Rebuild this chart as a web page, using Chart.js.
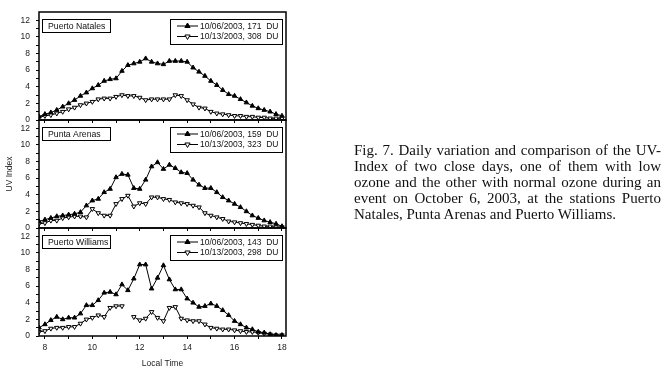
<!DOCTYPE html>
<html>
<head>
<meta charset="utf-8">
<script src="https://cdn.jsdelivr.net/npm/chart.js@4.4.1/dist/chart.umd.min.js"></script>
<style>
html,body{margin:0;padding:0;background:#fff;}
#wrap{position:relative;width:667px;height:373px;overflow:hidden;background:#fff;}
#wrap canvas{position:absolute;left:0;top:0;}
#caption{position:absolute;left:354px;top:142px;width:307px;font-family:"Liberation Serif","Times New Roman",serif;font-size:15px;line-height:16px;color:#111;}
#caption div{text-align:justify;text-align-last:justify;}
#caption div.last{text-align:left;text-align-last:left;}
</style>
</head>
<body>
<div id="wrap">
  <canvas id="c1" width="667" height="373"></canvas>
  <canvas id="c2" width="667" height="373"></canvas>
  <canvas id="c3" width="667" height="373"></canvas>
  <div id="caption">
    <div>Fig. 7. Daily variation and comparison of the UV-</div>
    <div>Index of two close days, one of them with low</div>
    <div>ozone and the other with normal ozone during an</div>
    <div>event on October 6, 2003, at the stations Puerto</div>
    <div class="last">Natales, Punta Arenas and Puerto Williams.</div>
  </div>
</div>
<script>
// ---------- data ----------
const times = [7.75, 8, 8.25, 8.5, 8.75, 9, 9.25, 9.5, 9.75, 10, 10.25, 10.5, 10.75, 11, 11.25, 11.5, 11.75, 12, 12.25, 12.5, 12.75, 13, 13.25, 13.5, 13.75, 14, 14.25, 14.5, 14.75, 15, 15.25, 15.5, 15.75, 16, 16.25, 16.5, 16.75, 17, 17.25, 17.5, 17.75, 18];

const stations = ["Puerto Natales", "Punta Arenas", "Puerto Williams"];
const seriesLabelsNatales = ["10/06/2003, 171  DU", "10/13/2003, 308  DU"];
const seriesLabelsArenas = ["10/06/2003, 159  DU", "10/13/2003, 323  DU"];
const seriesLabelsWilliams = ["10/06/2003, 143  DU", "10/13/2003, 298  DU"];

const natalesLowOzone = [0.4, 0.7, 0.9, 1.2, 1.6, 2.0, 2.4, 2.9, 3.3, 3.8, 4.2, 4.7, 4.9, 5.0, 5.9, 6.6, 6.8, 7.0, 7.4, 7.0, 6.8, 6.7, 7.1, 7.1, 7.1, 7.0, 6.3, 5.8, 5.3, 4.7, 4.2, 3.6, 3.1, 2.9, 2.5, 2.1, 1.7, 1.4, 1.2, 1.0, 0.7, 0.5];
const natalesNormal = [0.3, 0.5, 0.6, 0.8, 1.0, 1.3, 1.5, 1.8, 2.0, 2.2, 2.5, 2.6, 2.6, 2.8, 3.0, 2.9, 2.9, 2.7, 2.4, 2.5, 2.5, 2.5, 2.5, 3.0, 2.9, 2.4, 1.9, 1.5, 1.4, 1.0, 0.8, 0.7, 0.6, 0.5, 0.5, 0.4, 0.4, 0.3, 0.3, 0.2, 0.2, 0.2];

const arenasLowOzone = [0.8, 1.0, 1.2, 1.4, 1.5, 1.6, 1.7, 1.9, 2.7, 3.3, 3.5, 4.3, 4.7, 6.1, 6.5, 6.4, 4.8, 4.7, 5.8, 7.4, 7.9, 7.1, 7.6, 7.2, 6.7, 6.6, 5.8, 5.2, 4.8, 4.8, 4.3, 3.7, 3.3, 2.9, 2.5, 2.0, 1.5, 1.2, 0.9, 0.7, 0.5, 0.2];
const arenasNormal = [0.5, 0.6, 0.9, 0.9, 1.2, 1.3, 1.4, 1.4, 1.3, 2.3, 1.8, 1.5, 1.5, 2.9, 3.5, 3.9, 2.6, 3.0, 2.9, 3.7, 3.7, 3.5, 3.4, 3.1, 3.0, 2.9, 2.7, 2.5, 1.8, 1.5, 1.3, 1.1, 0.8, 0.7, 0.6, 0.5, 0.4, 0.3, 0.2, 0.2, 0.1, 0.1];

const williamsLowOzone = [1.0, 1.4, 1.9, 2.3, 2.0, 2.2, 2.2, 2.7, 3.7, 3.7, 4.3, 5.2, 5.3, 5.0, 6.2, 5.5, 6.9, 8.6, 8.6, 5.7, 7.0, 8.5, 6.8, 5.6, 5.6, 4.5, 4.0, 3.5, 3.6, 3.9, 3.6, 3.1, 2.5, 1.8, 1.4, 1.0, 0.8, 0.5, 0.4, 0.2, 0.1, 0.1];
const williamsNormal = [0.5, 0.6, 0.9, 1.0, 1.0, 1.1, 1.1, 1.5, 2.0, 2.2, 2.5, 2.3, 3.4, 3.6, 3.6, null, 2.3, 1.9, 2.1, 2.9, 2.2, 1.8, 3.4, 3.5, 2.1, 1.9, 1.8, 1.8, 1.4, 1.0, 0.9, 0.8, 0.8, 0.7, 0.6, 0.5, 0.5, 0.4, 0.3, 0.2, 0.1, 0.1];

const xTickValues = [8, 9, 10, 11, 12, 13, 14, 15, 16, 17, 18];
const yTickValues = [0, 1, 2, 3, 4, 5, 6, 7, 8, 9, 10, 11, 12];
const xAxisTitle = "Local Time";
const yAxisTitle = "UV Index";

// ---------- drawing ----------
const FONT = '"Liberation Sans", Arial, sans-serif';

const panelDecor = {
  id: 'panelDecor',
  afterDraw(chart, args, opts) {
    const {ctx, chartArea: a} = chart;
    ctx.save();
    // frame
    ctx.strokeStyle = '#000';
    ctx.lineWidth = 1.5;
    ctx.strokeRect(a.left, a.top, a.right - a.left, a.bottom - a.top);
    // station label box
    ctx.lineWidth = 1;
    ctx.fillStyle = '#fff';
    ctx.fillRect(a.left + 3, a.top + 7, 68, 13);
    ctx.strokeRect(a.left + 3.5, a.top + 7.5, 68, 13);
    ctx.fillStyle = '#111';
    ctx.font = '8.7px ' + FONT;
    ctx.textBaseline = 'middle';
    ctx.textAlign = 'left';
    ctx.fillText(opts.station, a.left + 9, a.top + 14.5);
    // legend box
    const bx = a.right - 116, by = a.top + 7;
    ctx.fillStyle = '#fff';
    ctx.fillRect(bx, by, 112, 25);
    ctx.strokeRect(bx + 0.5, by + 0.5, 112, 25);
    chart.data.datasets.forEach((ds, i) => {
      const y = by + 7 + i * 10.5;
      ctx.strokeStyle = '#000';
      ctx.lineWidth = 1;
      ctx.beginPath();
      ctx.moveTo(bx + 7, y);
      ctx.lineTo(bx + 28, y);
      ctx.stroke();
      ctx.fillStyle = ds.pointBackgroundColor;
      ctx.strokeStyle = '#000';
      Chart.helpers.drawPoint(ctx, {pointStyle: 'triangle', rotation: ds.pointRotation, radius: 3, borderWidth: 1}, bx + 17.5, y);
      ctx.fillStyle = '#111';
      ctx.font = '8.5px ' + FONT;
      ctx.fillText(ds.label, bx + 30, y + 0.5);
    });
    ctx.restore();
  }
};

function makeDatasets(lowVals, normVals, labels) {
  return [
    {
      label: labels[0],
      data: times.map((t, i) => ({x: t, y: lowVals[i]})),
      borderColor: '#000', borderWidth: 1,
      pointStyle: 'triangle', pointRotation: 0, pointRadius: 2.6,
      pointBackgroundColor: '#000', pointBorderColor: '#000', pointBorderWidth: 1,
      tension: 0, spanGaps: false
    },
    {
      label: labels[1],
      data: times.map((t, i) => ({x: t, y: normVals[i]})),
      borderColor: '#000', borderWidth: 1,
      pointStyle: 'triangle', pointRotation: 180, pointRadius: 2.6,
      pointBackgroundColor: '#fff', pointBorderColor: '#000', pointBorderWidth: 1,
      tension: 0, spanGaps: false
    }
  ];
}

function makePanel(id, top, bottom, lowVals, normVals, labels, station, isBottom, showYTitle) {
  const xh = isBottom ? 37 : 10;
  return new Chart(document.getElementById(id), {
    type: 'line',
    data: {datasets: makeDatasets(lowVals, normVals, labels)},
    options: {
      responsive: false,
      animation: false,
      devicePixelRatio: 1,
      layout: {padding: {left: 0, right: 381, top: top, bottom: 373 - bottom - xh}},
      plugins: {
        legend: {display: false},
        tooltip: {enabled: false},
        panelDecor: {station: station}
      },
      scales: {
        x: {
          type: 'linear', min: 7.75, max: 18.17,
          afterBuildTicks: s => { s.ticks = xTickValues.map(v => ({value: v})); },
          afterFit: s => { s.height = xh; s.paddingLeft = 0; s.paddingRight = 0; },
          grid: {drawOnChartArea: false, drawTicks: true, tickLength: 3, color: '#000', lineWidth: 1},
          border: {display: false},
          ticks: {
            autoSkip: false, maxRotation: 0, padding: 4, color: '#222',
            font: {family: FONT, size: 8.5},
            callback: v => (isBottom && v % 2 === 0) ? String(v) : ''
          },
          title: {display: isBottom, text: xAxisTitle, color: '#222', font: {family: FONT, size: 8.5}, padding: {top: 0, bottom: 4}}
        },
        y: {
          type: 'linear', min: 0, max: 13,
          afterBuildTicks: s => { s.ticks = yTickValues.map(v => ({value: v})); },
          afterFit: s => { s.width = 39; s.paddingTop = 0; s.paddingBottom = 0; },
          grid: {drawOnChartArea: false, drawTicks: true, tickLength: 3, color: '#000', lineWidth: 1},
          border: {display: false},
          ticks: {
            autoSkip: false, padding: 6, color: '#222',
            font: {family: FONT, size: 8.5},
            callback: v => (v % 2 === 0) ? String(v) : ''
          },
          title: {display: showYTitle, text: yAxisTitle, color: '#222', font: {family: FONT, size: 8.5}, padding: {top: 5, bottom: 0}}
        }
      }
    },
    plugins: [panelDecor]
  });
}

makePanel('c1', 12, 120, natalesLowOzone, natalesNormal, seriesLabelsNatales, stations[0], false, false);
makePanel('c2', 120, 228, arenasLowOzone, arenasNormal, seriesLabelsArenas, stations[1], false, true);
makePanel('c3', 228, 336, williamsLowOzone, williamsNormal, seriesLabelsWilliams, stations[2], true, false);
</script>
</body>
</html>
